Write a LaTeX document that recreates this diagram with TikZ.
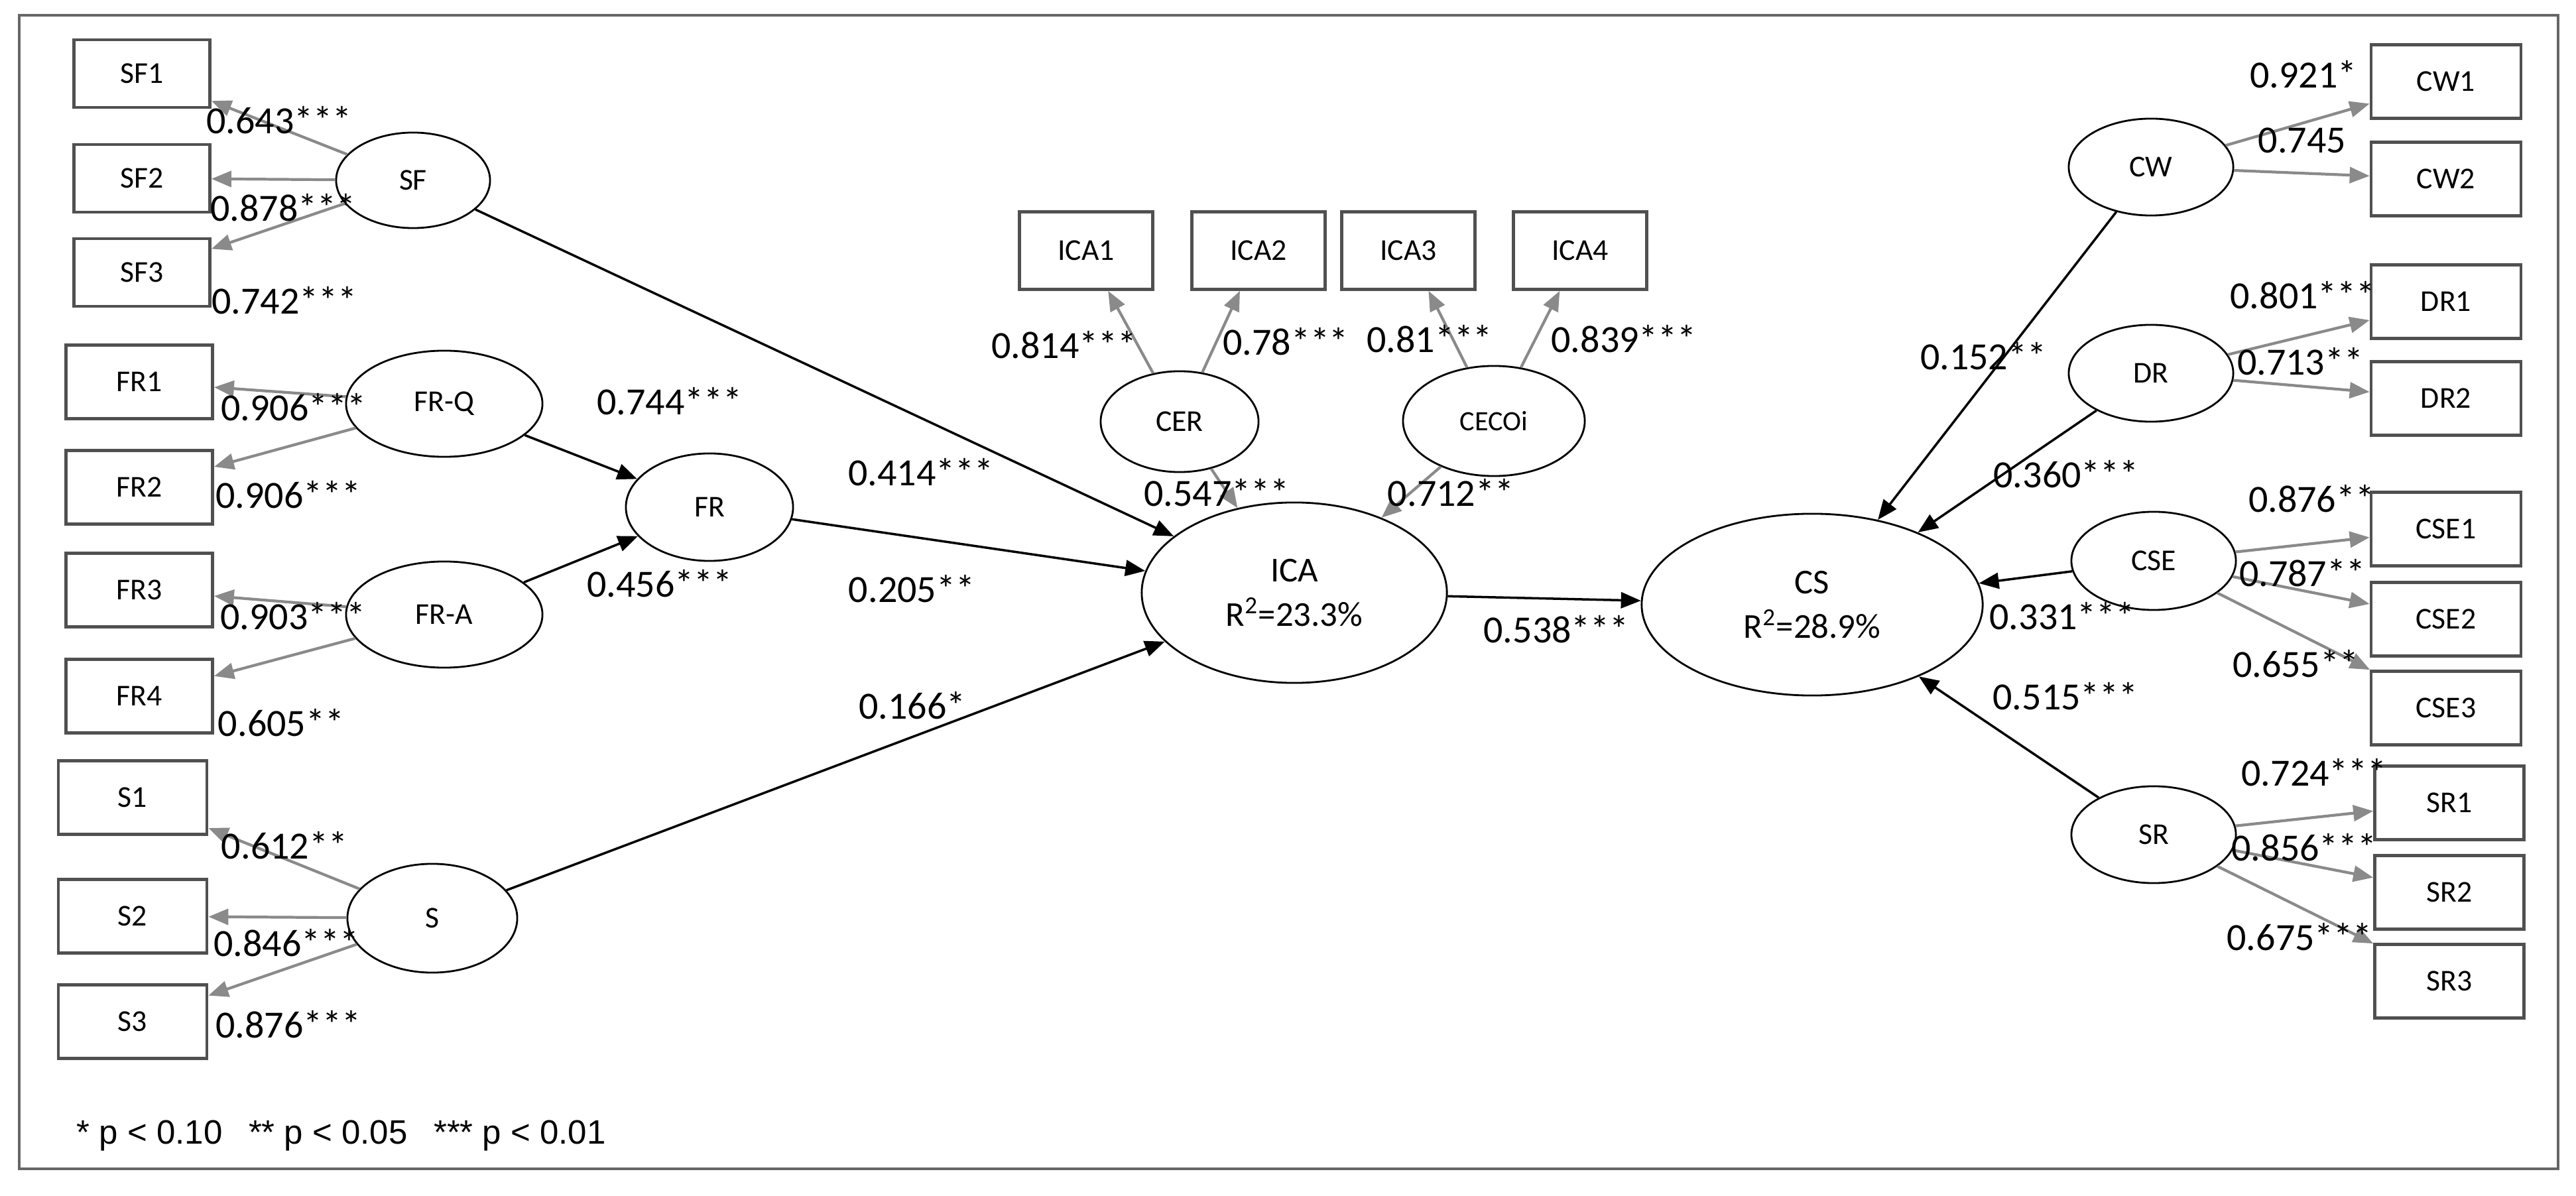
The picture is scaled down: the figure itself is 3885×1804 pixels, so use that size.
\documentclass[tikz,border=0pt]{standalone}
\usepackage{fontspec}
\setmainfont{Carlito}
\newfontfamily\footfont{Liberation Sans}
\usetikzlibrary{arrows.meta,shapes.geometric}
\definecolor{ld}{HTML}{8A8A8A}
\definecolor{bd}{HTML}{505050}
\begin{document}
\begin{tikzpicture}[x=0.01cm,y=-0.01cm,
 box/.style={draw=bd,line width=1.3pt,rectangle,inner sep=0pt,font=\fontsize{13}{15}\selectfont},
 lv/.style={draw=black,line width=0.8pt,ellipse,inner sep=0pt,font=\fontsize{13}{15}\selectfont},
 lab/.style={inner sep=0pt,font=\fontsize{16.5}{18}\selectfont},
 ld/.style={draw=ld,line width=1.2pt,-{Triangle[length=0.3cm,width=0.24cm]}},
 st/.style={draw=black,line width=1pt,-{Triangle[length=0.3cm,width=0.24cm]}}]
\useasboundingbox (0,0) rectangle (3885,1804);
\draw[draw=gray!80!black,line width=1.3pt] (29,23) rectangle (3858,1763);
% left indicator boxes
\foreach \n/\y in {SF1/111,SF2/269,SF3/411}
  \node[box,minimum width=2.05cm,minimum height=1.02cm] (\n) at (214,\y) {\n};
\foreach \n/\y in {FR1/576,FR2/735,FR3/890,FR4/1050}
  \node[box,minimum width=2.21cm,minimum height=1.11cm] (\n) at (210,\y) {\n};
\foreach \n/\y in {S1/1203,S2/1382,S3/1541}
  \node[box,minimum width=2.24cm,minimum height=1.11cm] (\n) at (200,\y) {\n};
% ICA boxes
\foreach \n/\x in {ICA1/1638,ICA2/1898,ICA3/2124,ICA4/2383}
  \node[box,minimum width=2.01cm,minimum height=1.17cm] (\n) at (\x,378) {\n};
% right boxes
\foreach \n/\y in {CW1/123,CW2/270,DR1/455,DR2/601,CSE1/798,CSE2/934,CSE3/1068}
  \node[box,minimum width=2.26cm,minimum height=1.11cm] (\n) at (3689,\y) {\n};
\foreach \n/\y in {SR1/1211,SR2/1346,SR3/1480}
  \node[box,minimum width=2.25cm,minimum height=1.11cm] (\n) at (3694,\y) {\n};
% latent variables
\node[lv,minimum width=2.32cm,minimum height=1.44cm] (SF) at (623,272) {SF};
\node[lv,minimum width=2.96cm,minimum height=1.6cm] (FRQ) at (670,609) {FR-Q};
\node[lv,minimum width=2.96cm,minimum height=1.6cm] (FRA) at (670,927) {FR-A};
\node[lv,minimum width=2.56cm,minimum height=1.64cm] (S) at (652,1385) {S};
\node[lv,minimum width=2.52cm,minimum height=1.62cm] (FR) at (1070,765) {FR};
\node[lv,minimum width=2.38cm,minimum height=1.52cm] (CER) at (1779,636) {CER};
\node[lv,minimum width=2.74cm,minimum height=1.66cm,font=\fontsize{12}{14}\selectfont] (CECOi) at (2253,635) {CECOi};
\node[lv,minimum width=4.6cm,minimum height=2.72cm,align=center,font=\fontsize{15}{19}\selectfont] (ICA) at (1952,894) {ICA\\R\textsuperscript{2}=23.3\%};
\node[lv,minimum width=5.14cm,minimum height=2.74cm,align=center,font=\fontsize{15}{19}\selectfont] (CS) at (2733,912) {CS\\R\textsuperscript{2}=28.9\%};
\node[lv,minimum width=2.48cm,minimum height=1.46cm] (CW) at (3244,252) {CW};
\node[lv,minimum width=2.48cm,minimum height=1.46cm] (DR) at (3244,563) {DR};
\node[lv,minimum width=2.48cm,minimum height=1.48cm] (CSE) at (3248,846) {CSE};
\node[lv,minimum width=2.48cm,minimum height=1.46cm] (SR) at (3248,1259) {SR};
% loadings
\foreach \a/\b in {SF/SF1,SF/SF2,SF/SF3,FRQ/FR1,FRQ/FR2,FRA/FR3,FRA/FR4,S/S1,S/S2,S/S3,
  CER/ICA1,CER/ICA2,CECOi/ICA3,CECOi/ICA4,CER/ICA,CECOi/ICA,
  CW/CW1,CW/CW2,DR/DR1,DR/DR2,CSE/CSE1,CSE/CSE2,CSE/CSE3,SR/SR1,SR/SR2,SR/SR3}
  \draw[ld] (\a) -- (\b);
% structural paths
\foreach \a/\b in {SF/ICA,FRQ/FR,FRA/FR,FR/ICA,S/ICA,ICA/CS,CW/CS,DR/CS,CSE/CS,SR/CS}
  \draw[st] (\a) -- (\b);
% labels
\node[lab] (l1) at (421,181) {0.643***};
\node[lab] (l2) at (427,313) {0.878***};
\node[lab] (l3) at (429,453) {0.742***};
\node[lab] (l4) at (443,614) {0.906***};
\node[lab] (l5) at (435,746) {0.906***};
\node[lab] (l6) at (442,929) {0.903***};
\node[lab] (l7) at (424,1090) {0.605**};
\node[lab] (l8) at (429,1275) {0.612**};
\node[lab] (l9) at (432,1422) {0.846***};
\node[lab] (l10) at (435,1545) {0.876***};
\node[lab] (l11) at (1010,605) {0.744***};
\node[lab] (l12) at (995,880) {0.456***};
\node[lab] (l13) at (1389,712) {0.414***};
\node[lab] (l14) at (1375,888) {0.205**};
\node[lab] (l15) at (1376,1064) {0.166*};
\node[lab] (l16) at (1605,520) {0.814***};
\node[lab] (l17) at (1939,515) {0.78***};
\node[lab] (l18) at (2156,511) {0.81***};
\node[lab] (l19) at (2449,511) {0.839***};
\node[lab] (l20) at (1835,743) {0.547***};
\node[lab] (l21) at (2188,743) {0.712**};
\node[lab] (l22) at (2347,949) {0.538***};
\node[lab] (l23) at (3474,112) {0.921*};
\node[lab] (l24) at (3472,212) {0.745};
\node[lab] (l25) at (3473,445) {0.801***};
\node[lab] (l26) at (3469,545) {0.713**};
\node[lab] (l27) at (2991,537) {0.152**};
\node[lab] (l28) at (3116,715) {0.360***};
\node[lab] (l29) at (3486,752) {0.876**};
\node[lab] (l30) at (3472,864) {0.787**};
\node[lab] (l31) at (3110,929) {0.331***};
\node[lab] (l32) at (3462,1001) {0.655**};
\node[lab] (l33) at (3115,1050) {0.515***};
\node[lab] (l34) at (3490,1165) {0.724***};
\node[lab] (l35) at (3475,1278) {0.856***};
\node[lab] (l36) at (3468,1413) {0.675***};
\node[anchor=west,inner sep=0pt,font=\footfont\fontsize{14.5}{17}\selectfont] (foot) at (115,1713) {* p < 0.10\enspace\ ** p < 0.05\enspace\ *** p < 0.01};
\end{tikzpicture}
\end{document}
